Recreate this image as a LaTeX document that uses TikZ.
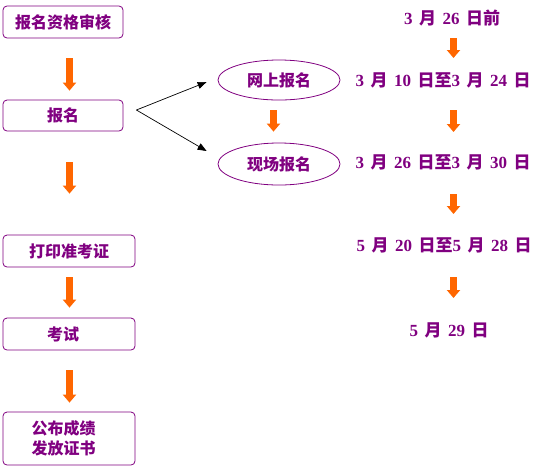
\documentclass[tikz,border=0pt]{standalone}
\usepackage{fontspec}
\setmainfont{Liberation Serif}
\newfontfamily\cjk{Noto Sans CJK SC}
\usetikzlibrary{arrows.meta,shapes.geometric,calc}
\definecolor{pur}{HTML}{800080}
\definecolor{org}{HTML}{FF6600}
\newcommand\gp{\hspace{6.5pt}}
\newcommand\cj[1]{{\cjk\bfseries #1}}
\begin{document}
\begin{tikzpicture}[x=1pt,y=-1pt,
  box/.style={draw=pur, rounded corners=4pt, line width=0.8pt, inner sep=0pt, text=pur,
    font=\cjk\bfseries\fontsize{16}{20}\selectfont, align=center},
  oval/.style={draw=pur, ellipse, line width=0.8pt, inner sep=0pt, minimum width=122pt,
    text=pur, font=\cjk\bfseries\fontsize{16}{20}\selectfont},
  datetext/.style={text=pur, inner sep=0pt, font=\bfseries\fontsize{17}{20}\selectfont},
  oarr/.style={draw=org, line width=7pt, -{Triangle[width=13pt,length=8pt]}},
  barr/.style={draw=black, line width=0.7pt, -{Triangle[width=7pt,length=9pt]}}]
\useasboundingbox (0,0) rectangle (534,467);
% left column boxes
\node[box, minimum width=120pt, minimum height=32pt] (b1) at (63,22) {报名资格审核};
\node[box, minimum width=120pt, minimum height=31pt] (b2) at (63,115.5) {报名};
\node[box, minimum width=132pt, minimum height=32pt] (b3) at (69,251) {打印准考证};
\node[box, minimum width=132pt, minimum height=32pt] (b4) at (69,334) {\hspace{-12pt}考试};
\node[box, minimum width=132pt, minimum height=53pt] (b5) at (69,438.5) {\hspace{-11pt}公布成绩\\\hspace{-11pt}发放证书};
% ellipses
\node[oval, minimum height=40pt] (e1) at (279,80) {网上报名};
\node[oval, minimum height=42pt] (e2) at (279,164) {现场报名};
% dates
\node[datetext] (t1) at (452,18) {3\gp\cj{月}\gp 26\gp\cj{日前}};
\node[datetext] (t2) at (443,80) {3\gp\cj{月}\gp 10\gp\cj{日至}3\gp\cj{月}\gp 24\gp\cj{日}};
\node[datetext] (t3) at (443,162) {3\gp\cj{月}\gp 26\gp\cj{日至}3\gp\cj{月}\gp 30\gp\cj{日}};
\node[datetext] (t4) at (444,245) {5\gp\cj{月}\gp 20\gp\cj{日至}5\gp\cj{月}\gp 28\gp\cj{日}};
\node[datetext] (t5) at (449,330) {5\gp\cj{月}\gp 29\gp\cj{日}};
% left orange arrows
\draw[oarr] ([xshift=6.5pt,yshift=-20pt]b1.south) -- ([xshift=6.5pt,yshift=9pt]b2.north);
\draw[oarr] ([xshift=6.5pt,yshift=-31pt]b2.south) -- ([xshift=0.5pt,yshift=41pt]b3.north);
\draw[oarr] ([xshift=0.5pt,yshift=-10pt]b3.south) -- ([xshift=0.5pt,yshift=10pt]b4.north);
\draw[oarr] ([xshift=0.5pt,yshift=-20pt]b4.south) -- ([xshift=0.5pt,yshift=9pt]b5.north);
% middle orange arrow
\draw[oarr] ([xshift=-5.5pt,yshift=-10pt]e1.south) -- ([xshift=-5.5pt,yshift=11pt]e2.north);
% right orange arrows
\draw[oarr] ($(t1)+(1.5,20)$) -- ($(t2)+(10.5,-22)$);
\draw[oarr] ($(t2)+(10.5,30)$) -- ($(t3)+(10.5,-30)$);
\draw[oarr] ($(t3)+(10.5,32)$) -- ($(t4)+(9.5,-31)$);
\draw[oarr] ($(t4)+(9.5,32)$) -- ($(t5)+(4.5,-32)$);
% black arrows
\coordinate (apex) at ($(b2.east)+(13,-5.5)$);
\draw[barr] (apex) -- ([xshift=-11pt,yshift=-2pt]e1.west);
\draw[barr] (apex) -- ([xshift=-11pt,yshift=13pt]e2.west);
\end{tikzpicture}
\end{document}
